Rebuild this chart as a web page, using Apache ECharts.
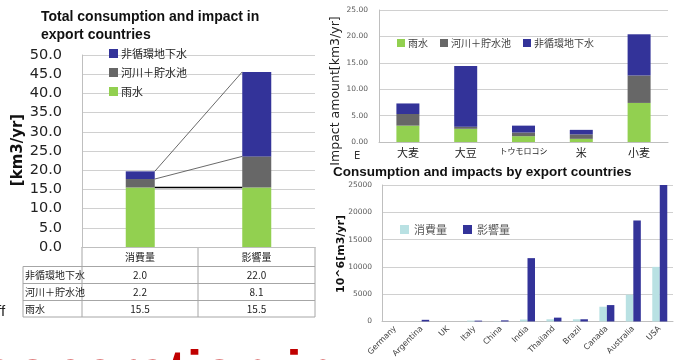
<!DOCTYPE html>
<html>
<head>
<meta charset="utf-8">
<script src="https://cdn.jsdelivr.net/npm/echarts@6/dist/echarts.min.js"></script>
<style>
html, body { margin: 0; padding: 0; background: #fff; }
#main { width: 683px; height: 360px; }
</style>
</head>
<body>
<div id="main"></div>
<script>
// 左: 輸出国での消費量と影響量 (合計)
const totalCats = ['消費量', '影響量'];
const totalRows = ['非循環地下水', '河川＋貯水池', '雨水'];
const totalGround = [2.0, 22.0];
const totalRiver = [2.2, 8.1];
const totalRain = [15.5, 15.5];

// 右上: 作物別の影響量
const crops = ['大麦', '大豆', 'トウモロコシ', '米', '小麦'];
const cropRain = [3.1, 2.5, 1.1, 0.6, 7.4];
const cropRiver = [2.2, 0.4, 0.7, 0.85, 5.2];
const cropGround = [2.0, 11.5, 1.3, 0.85, 7.8];

// 右下: 輸出国別
const countries = ['Germany', 'Argentina', 'UK', 'Italy', 'China', 'India', 'Thailand', 'Brazil', 'Canada', 'Australia', 'USA'];
const countryCons = [0, 20, 0, 150, 50, 350, 400, 400, 2700, 4900, 10000];
const countryImpact = [0, 300, 0, 150, 200, 11600, 700, 400, 3000, 18500, 27000];

const leftTicks = [0, 50, 5];
const cropTicks = [0, 25, 5];
const countryTicks = [0, 25000, 5000];

const C_RAIN = '#92d050';
const C_RIVER = '#676767';
const C_GROUND = '#333399';
const C_CONS = '#b9e1e3';

const cjk = '"Noto Sans CJK JP", sans-serif';
const LEFT_BAR = 29;

const el = document.getElementById('main');
const chart = echarts.init(el, null, { renderer: 'canvas' });

// 消費量 -> 影響量 をつなぐ線
const stackTop = (i) => [
    totalRain[i],
    totalRain[i] + totalRiver[i],
    totalRain[i] + totalRiver[i] + totalGround[i]
];
const linkData = [0, 1, 2].map(k => [k, stackTop(0)[k], stackTop(1)[k]]);

// 表 (左下)
const tbl = { left: 23, cols: [82, 198, 315], rows: [247, 266.5, 283.5, 300.5, 317] };
const tableGraphic = () => {
    const g = [];
    const line = (x1, y1, x2, y2) => g.push({
        type: 'line', shape: { x1, y1, x2, y2 },
        style: { stroke: '#a6a6a6', lineWidth: 1 }
    });
    for (let r = 1; r < tbl.rows.length; r++) line(tbl.left, tbl.rows[r], tbl.cols[2], tbl.rows[r]);
    line(tbl.left, tbl.rows[1], tbl.left, tbl.rows[4]);
    tbl.cols.forEach(x => line(x, tbl.rows[0], x, tbl.rows[4]));
    const txt = (text, x, y, align) => g.push({
        type: 'text', x, y,
        style: { text, font: '10px ' + cjk, fill: '#222', align, verticalAlign: 'middle' }
    });
    const colMid = [(tbl.cols[0] + tbl.cols[1]) / 2, (tbl.cols[1] + tbl.cols[2]) / 2];
    totalCats.forEach((c, i) => txt(c, colMid[i], (tbl.rows[0] + tbl.rows[1]) / 2, 'center'));
    const vals = [totalGround, totalRiver, totalRain];
    totalRows.forEach((name, r) => {
        const y = (tbl.rows[r + 1] + tbl.rows[r + 2]) / 2;
        txt(name, tbl.left + 2, y, 'left');
        vals[r].forEach((v, i) => txt(v.toFixed(1), colMid[i], y, 'center'));
    });
    return g;
};

const valAxis = (gridIndex, ticks, fmt, font, margin) => ({
    type: 'value', gridIndex,
    min: ticks[0], max: ticks[1], interval: ticks[2],
    axisLine: { show: true, lineStyle: { color: '#bfbfbf' } },
    axisTick: { show: false },
    splitLine: { lineStyle: { color: '#d0d0d0' } },
    axisLabel: { formatter: fmt, margin, ...font }
});

const options = {
    animation: false,
    grid: [
        { left: 82, top: 55, width: 233, height: 192 },
        { left: 379, top: 10, width: 289, height: 132 },
        { left: 382, top: 185, width: 291, height: 140 }
    ],
    xAxis: [
        {
            type: 'category', gridIndex: 0, data: totalCats,
            axisLine: { lineStyle: { color: '#bfbfbf' } },
            axisTick: { show: false }, axisLabel: { show: false }
        },
        {
            type: 'category', gridIndex: 1, data: crops,
            axisLine: { lineStyle: { color: '#bfbfbf' } },
            axisTick: { lineStyle: { color: '#bfbfbf' }, length: 5 },
            axisLabel: {
                interval: 0, margin: 5, fontSize: 11, color: '#222', fontFamily: cjk,
                formatter: (v) => v.length > 3 ? '{s|' + v + '}' : v,
                rich: { s: { fontSize: 8, fontFamily: cjk, color: '#222' } }
            }
        },
        {
            type: 'category', gridIndex: 2, data: countries,
            axisLine: { lineStyle: { color: '#bfbfbf' } },
            axisTick: { lineStyle: { color: '#bfbfbf' }, length: 4 },
            axisLabel: { interval: 0, rotate: 45, margin: 6, fontSize: 8, color: '#404040', fontFamily: 'DejaVu Sans' }
        }
    ],
    yAxis: [
        valAxis(0, leftTicks, v => v.toFixed(1), { fontSize: 14.5, color: '#222', fontFamily: 'DejaVu Sans' }, 20),
        valAxis(1, cropTicks, v => v.toFixed(2), { fontSize: 7.5, color: '#595959', fontFamily: 'DejaVu Sans' }, 11),
        valAxis(2, countryTicks, v => String(v), { fontSize: 7.5, color: '#595959', fontFamily: 'DejaVu Sans' }, 10)
    ],
    legend: [
        {
            orient: 'vertical', left: 104, top: 43, itemWidth: 9, itemHeight: 9, itemGap: 8,
            icon: 'rect', data: ['非循環地下水', '河川＋貯水池', '雨水'],
            textStyle: { fontSize: 11, color: '#222', fontFamily: cjk, padding: [0, 0, 0, -2] }
        },
        {
            orient: 'horizontal', left: 392, top: 33, itemWidth: 8, itemHeight: 8, itemGap: 12,
            icon: 'rect', data: ['雨水', '河川＋貯水池', '非循環地下水'],
            textStyle: { fontSize: 10, color: '#404040', fontFamily: cjk, padding: [0, 0, 0, -2] }
        },
        {
            orient: 'horizontal', left: 395, top: 219, itemWidth: 9, itemHeight: 9, itemGap: 16,
            icon: 'rect', data: ['消費量', '影響量'],
            textStyle: { fontSize: 11, color: '#595959', fontFamily: cjk }
        }
    ],
    series: [
        { name: '雨水', type: 'bar', xAxisIndex: 0, yAxisIndex: 0, stack: 'total', barWidth: LEFT_BAR, data: totalRain, itemStyle: { color: C_RAIN } },
        { name: '河川＋貯水池', type: 'bar', xAxisIndex: 0, yAxisIndex: 0, stack: 'total', data: totalRiver, itemStyle: { color: C_RIVER } },
        { name: '非循環地下水', type: 'bar', xAxisIndex: 0, yAxisIndex: 0, stack: 'total', data: totalGround, itemStyle: { color: C_GROUND } },
        {
            type: 'custom', xAxisIndex: 0, yAxisIndex: 0, z: 5, silent: true,
            data: linkData,
            renderItem: (params, api) => {
                const a = api.coord([0, api.value(1)]);
                const b = api.coord([1, api.value(2)]);
                const base = api.value(0) === 0;
                return {
                    type: 'line',
                    shape: { x1: a[0] + LEFT_BAR / 2, y1: a[1], x2: b[0] - LEFT_BAR / 2, y2: b[1] },
                    style: { stroke: base ? '#000' : '#444', lineWidth: base ? 1.3 : 0.8 }
                };
            }
        },
        { name: '雨水', type: 'bar', xAxisIndex: 1, yAxisIndex: 1, stack: 'crop', barWidth: 23, data: cropRain, itemStyle: { color: C_RAIN } },
        { name: '河川＋貯水池', type: 'bar', xAxisIndex: 1, yAxisIndex: 1, stack: 'crop', data: cropRiver, itemStyle: { color: C_RIVER } },
        { name: '非循環地下水', type: 'bar', xAxisIndex: 1, yAxisIndex: 1, stack: 'crop', data: cropGround, itemStyle: { color: C_GROUND } },
        { name: '消費量', type: 'bar', xAxisIndex: 2, yAxisIndex: 2, barWidth: 7.5, barGap: '0%', data: countryCons, itemStyle: { color: C_CONS } },
        { name: '影響量', type: 'bar', xAxisIndex: 2, yAxisIndex: 2, barWidth: 7.5, barGap: '0%', clip: true, data: countryImpact, itemStyle: { color: C_GROUND } }
    ],
    graphic: [
        {
            type: 'text', x: 41, y: 8,
            style: {
                text: 'Total consumption and impact in\nexport countries',
                font: 'bold 14px "Liberation Sans", Arial, sans-serif', fill: '#111', lineHeight: 18
            }
        },
        {
            type: 'text', x: 18, y: 150, rotation: Math.PI / 2,
            style: { text: '[km3/yr]', font: 'bold 15px "DejaVu Sans", sans-serif', fill: '#111', align: 'center', verticalAlign: 'middle' }
        },
        {
            type: 'text', x: 336, y: 91, rotation: Math.PI / 2,
            style: { text: 'Impact amount[km3/yr]', font: '12.5px "DejaVu Sans", sans-serif', fill: '#222', align: 'center', verticalAlign: 'middle' }
        },
        {
            type: 'text', x: 333, y: 172,
            style: { text: 'Consumption and impacts by export countries', font: 'bold 13.5px "Liberation Sans", Arial, sans-serif', fill: '#111', verticalAlign: 'middle' }
        },
        {
            type: 'text', x: 341, y: 254, rotation: Math.PI / 2,
            style: { text: '10^6[m3/yr]', font: 'bold 11px "DejaVu Sans", sans-serif', fill: '#111', align: 'center', verticalAlign: 'middle' }
        },
        {
            type: 'text', x: 354, y: 156,
            style: { text: 'E', font: '10px "DejaVu Sans", sans-serif', fill: '#333', verticalAlign: 'middle' }
        },
        {
            type: 'text', x: -3, y: 312,
            style: { text: 'ff', font: '15px "Liberation Sans", Arial, sans-serif', fill: '#222', verticalAlign: 'middle' }
        },
        {
            type: 'text', x: 336, y: 374,
            style: { text: 'Cooperation in', font: 'bold 56px "Liberation Sans", Arial, sans-serif', fill: '#c00000', align: 'right', verticalAlign: 'middle' }
        },
        ...tableGraphic()
    ]
};

chart.setOption(options);
</script>
</body>
</html>
